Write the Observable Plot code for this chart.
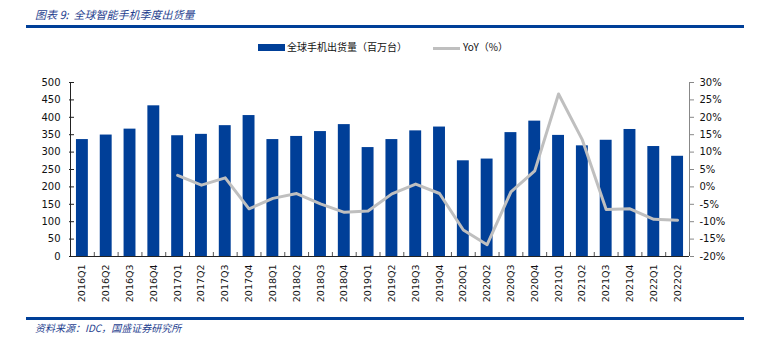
<!DOCTYPE html>
<html>
<head>
<meta charset="utf-8">
<script src="https://cdn.jsdelivr.net/npm/d3@7"></script>
<script src="https://cdn.jsdelivr.net/npm/@observablehq/plot@0.6"></script>
<style>
  html, body { margin: 0; padding: 0; background: #fff; overflow: hidden; }
  #wrap { position: relative; width: 769px; height: 345px; overflow: hidden; background: #fff; }
  .abs { position: absolute; white-space: nowrap; }
  .title { left: 35px; top: 6px; font: italic 11px "Noto Sans CJK SC", sans-serif; color: #1f3f8f; }
  .rule { left: 26px; width: 718px; height: 2.5px; background: #003f98; }
  .src { left: 35px; top: 320px; font: italic 10px "Noto Sans CJK SC", sans-serif; color: #1f3f8f; }
  .leg { top: 39px; font: 10px "Noto Sans CJK SC", sans-serif; color: #111; }
  #chart { position: absolute; left: 0; top: 70px; width: 769px; height: 250px; }
  #chart svg { max-width: none !important; display: block; }
</style>
</head>
<body>
<div id="wrap">
  <div class="abs title">图表 9:&nbsp; 全球智能手机季度出货量</div>
  <div class="abs rule" style="top:25px"></div>
  <div class="abs" style="left:258px;top:44px;width:27px;height:7px;background:#003f98"></div>
  <div class="abs leg" style="left:287px">全球手机出货量（百万台）</div>
  <div class="abs" style="left:433px;top:47px;width:27px;height:3px;background:#bfbfbf"></div>
  <div class="abs leg" style="left:463px">YoY（%）</div>
  <div id="chart"></div>
  <div class="abs rule" style="top:317px"></div>
  <div class="abs src">资料来源：IDC，国盛证券研究所</div>
</div>
<script>
const quarters = ["2016Q1","2016Q2","2016Q3","2016Q4","2017Q1","2017Q2","2017Q3","2017Q4",
  "2018Q1","2018Q2","2018Q3","2018Q4","2019Q1","2019Q2","2019Q3","2019Q4",
  "2020Q1","2020Q2","2020Q3","2020Q4","2021Q1","2021Q2","2021Q3","2021Q4","2022Q1","2022Q2"];
const shipments = [336,349,366,433,347,351,376,405,336,345,359,379,313,336,361,372,275,280,356,389,348,318,334,365,316,288];
const yoyQuarters = quarters.slice(4);
const yoy = [3.3,0.5,2.6,-6.3,-3.3,-1.9,-4.9,-7.3,-6.9,-2.0,0.8,-1.9,-12.4,-16.6,-1.4,4.6,26.7,13.5,-6.5,-6.3,-9.3,-9.6];
const leftTicks = [0,50,100,150,200,250,300,350,400,450,500];
const rightTicks = [-20,-15,-10,-5,0,5,10,15,20,25,30];

// map YoY % onto the left scale: -20%..30% -> 0..500
const toLeft = v => (v + 20) * 10;
const fromLeft = d => Math.round(d / 10 - 20) + "%";

const bars = quarters.map((q, i) => ({q, v: shipments[i]}));
const line = yoyQuarters.map((q, i) => ({q, v: toLeft(yoy[i])}));

const W = 769, mL = 70, mR = 80;
const step = (W - mL - mR) / quarters.length;

const chart = Plot.plot({
  width: W,
  height: 250,
  marginTop: 12,
  marginBottom: 64,
  marginLeft: mL,
  marginRight: mR,
  style: {fontFamily: "DejaVu Sans, sans-serif", fontSize: "10px", color: "#111", background: "transparent", maxWidth: "none"},
  x: {domain: quarters, type: "band", paddingInner: 0.5, paddingOuter: 0.25, round: false, label: null},
  y: {domain: [0, 500], label: null},
  marks: [
    Plot.barY(bars, {x: "q", y: "v", fill: "#003f98"}),
    Plot.line(line, {x: "q", y: "v", stroke: "#bfbfbf", strokeWidth: 3}),
    Plot.ruleY([0], {stroke: "#222"}),
    Plot.ruleX([quarters[0]], {dx: -step / 2, y1: 0, y2: 500, stroke: "#222"}),
    Plot.ruleX([quarters[quarters.length - 1]], {dx: step / 2, y1: 0, y2: 500, stroke: "#888"}),
    Plot.axisY({anchor: "left", ticks: leftTicks, tickSize: 0, tickPadding: 10, label: null}),
    Plot.axisY({anchor: "left", ticks: leftTicks, tickSize: 5, tickFormat: () => "", dx: 4, stroke: "#222", label: null}),
    Plot.axisY({anchor: "right", ticks: rightTicks.map(toLeft), tickFormat: fromLeft, tickSize: 4, tickPadding: 6, stroke: "#888", label: null}),
    Plot.axisX({tickSize: 0, tickRotate: -90, tickPadding: 8, fontSize: 9.5, label: null}),
    Plot.axisX({tickSize: 4, tickFormat: () => "", dx: step / 2, dy: -4, stroke: "#555", label: null})
  ]
});
document.getElementById("chart").appendChild(chart);
</script>
</body>
</html>
